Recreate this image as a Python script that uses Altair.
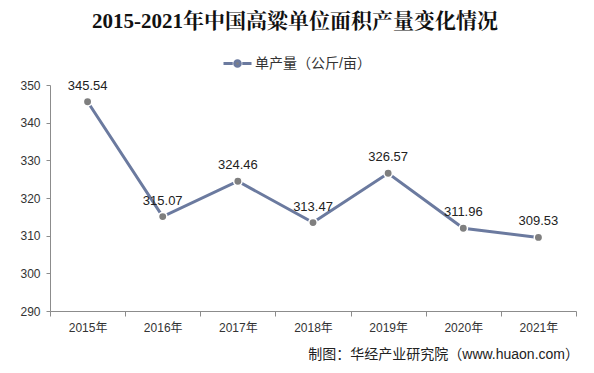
import altair as alt
import pandas as pd

years = ["2015年", "2016年", "2017年", "2018年", "2019年", "2020年", "2021年"]
values = [345.54, 315.07, 324.46, 313.47, 326.57, 311.96, 309.53]
series_name = "单产量（公斤/亩）"
y_ticks = [290, 300, 310, 320, 330, 340, 350]
title_text = "2015-2021年中国高粱单位面积产量变化情况"
footer_text = "制图：华经产业研究院（www.huaon.com）"

df = pd.DataFrame({"year": years, "value": values, "series": [series_name] * len(years)})

SANS = "Liberation Sans, Arial, Noto Sans CJK SC"
LINE_COLOR = "#6B7A9F"

x_enc = alt.X("year:N", sort=years,
              scale=alt.Scale(paddingInner=0, paddingOuter=0),
              axis=alt.Axis(title=None, labelAngle=0, tickBand="extent", grid=False,
                            domainColor="#8c8c8c", tickColor="#8c8c8c", tickSize=5,
                            labelFont=SANS, labelFontSize=12, labelColor="#333333",
                            labelPadding=6))
y_enc = alt.Y("value:Q",
              scale=alt.Scale(domain=[290, 350], nice=False, zero=False),
              axis=alt.Axis(title=None, values=y_ticks, grid=False,
                            domainColor="#8c8c8c", tickColor="#8c8c8c", tickSize=4,
                            labelFont=SANS, labelFontSize=12, labelColor="#333333",
                            labelPadding=6))

base = alt.Chart(df)

line = base.mark_line(strokeWidth=3).encode(
    x=x_enc, y=y_enc,
    color=alt.Color("series:N",
                    scale=alt.Scale(range=[LINE_COLOR]),
                    legend=alt.Legend(title=None, orient="none", legendX=172, legendY=-37,
                                      symbolType="M-1,0L-0.34,0M0.34,0L1,0M0.2,0A0.2,0.2,0,1,1,-0.2,0A0.2,0.2,0,1,1,0.2,0Z",
                                      symbolSize=784, symbolStrokeWidth=3,
                                      symbolFillColor="#808080",
                                      labelFont=SANS, labelFontSize=14, labelColor="#333333",
                                      labelOffset=2)),
)

points = base.mark_point(filled=True, size=70, fill="#7F7F7F", stroke="white",
                         strokeWidth=1.5, opacity=1).encode(x=x_enc, y=y_enc)

labels = base.mark_text(dy=-16, font=SANS, fontSize=13, color="#222222").encode(
    x=x_enc, y=y_enc, text=alt.Text("value:Q", format=".2f"))

title = alt.Chart(pd.DataFrame({"t": [title_text]})).mark_text(
    font="Liberation Serif, Noto Serif CJK SC, Noto Sans CJK SC", fontSize=21,
    fontWeight="bold", color="#111111", baseline="middle", align="center"
).encode(x=alt.value(245), y=alt.value(-63), text="t:N")

footer = alt.Chart(pd.DataFrame({"t": [footer_text]})).mark_text(
    font=SANS, fontSize=14, color="#222222", baseline="middle", align="right"
).encode(x=alt.value(529), y=alt.value(270), text="t:N")

chart = alt.layer(line, points, labels, title, footer).properties(
    width=526, height=226,
    autosize=alt.AutoSizeParams(type="none"),
    padding={"left": 42, "top": 77, "right": 8, "bottom": 55},
).configure_view(stroke=None)

chart.save("out.html", embed_options={"renderer": "svg", "actions": False})
